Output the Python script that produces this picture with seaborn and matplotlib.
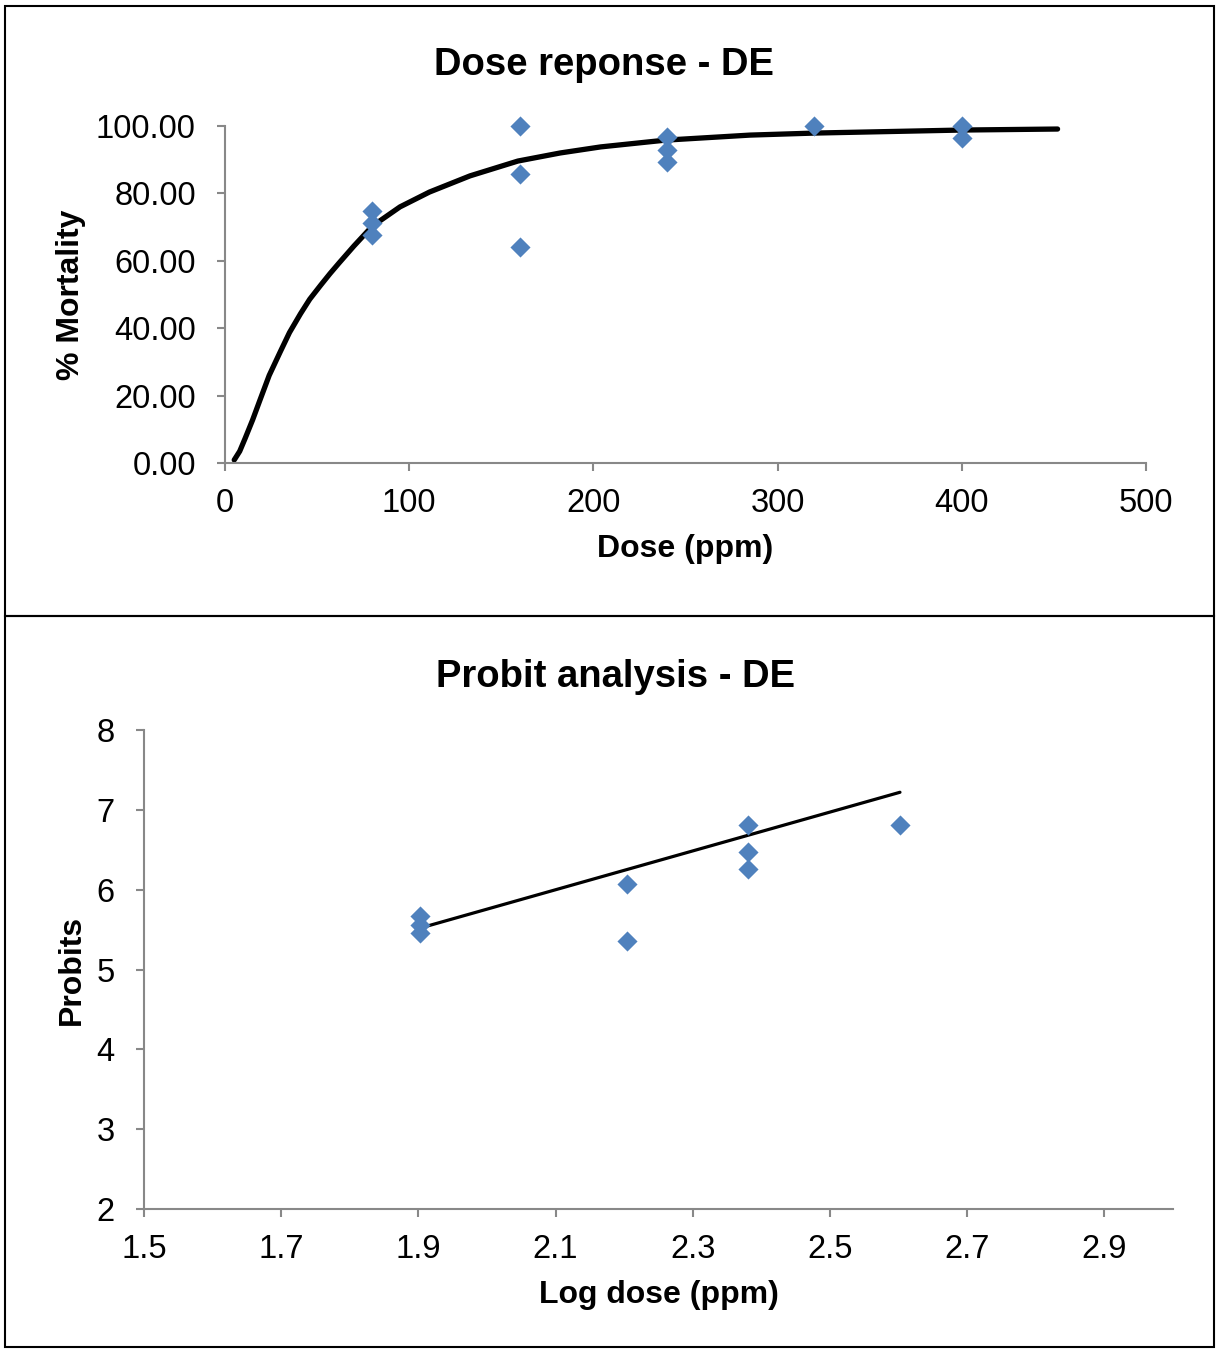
import matplotlib
matplotlib.use("Agg")
import matplotlib.pyplot as plt
import seaborn as sns

# dose response data
dose = [80, 80, 80, 160, 160, 160, 240, 240, 240, 320, 400, 400]
mortality = [74.8, 71.2, 67.7, 100.0, 85.8, 64.1, 96.7, 92.9, 89.3, 100.0, 100.0, 96.4]

# fitted curve
curve_dose = [5, 8, 11, 15, 19, 24, 30, 35, 41, 46, 52, 57, 62, 70, 80, 95, 111, 133, 159, 182, 204, 239, 285, 320, 400, 452]
curve_mort = [0.9, 3.5, 7.4, 12.8, 18.7, 26.0, 33.0, 38.7, 44.3, 48.6, 52.8, 56.2, 59.4, 64.4, 70.3, 76.0, 80.4, 85.2, 89.6, 92.0, 93.8, 95.8, 97.3, 97.9, 98.8, 99.1]

# probit data
log_dose = [1.903, 1.903, 1.903, 2.204, 2.204, 2.380, 2.380, 2.380, 2.602]
probits = [5.67, 5.56, 5.46, 6.07, 5.36, 6.81, 6.47, 6.26, 6.81]
fit_x = [1.903, 2.602]
fit_y = [5.52, 7.22]

top_xticks = [0, 100, 200, 300, 400, 500]
top_yticks = [0, 20, 40, 60, 80, 100]
bot_xticks = [1.5, 1.7, 1.9, 2.1, 2.3, 2.5, 2.7, 2.9]
bot_yticks = [2, 3, 4, 5, 6, 7, 8]

sns.set_theme(style="white")
plt.rcParams['font.family'] = ['Liberation Sans', 'DejaVu Sans']
plt.rcParams['text.color'] = 'black'
plt.rcParams['axes.labelcolor'] = 'black'

W, H = 1223, 1350
blue = "#4F81BD"
gray = "#888888"

fig = plt.figure(figsize=(W / 100, H / 100), dpi=100)
fig.patch.set_facecolor("white")

# chart borders
for top, bottom in [(6, 616), (616, 1347)]:
    fig.add_artist(plt.Rectangle((5 / W, 1 - bottom / H), (1214 - 5) / W, (bottom - top) / H,
                                 transform=fig.transFigure, fill=False, edgecolor="black", linewidth=1.5))


def style_axes(ax):
    for side in ["top", "right"]:
        ax.spines[side].set_visible(False)
    for side in ["left", "bottom"]:
        ax.spines[side].set_color(gray)
        ax.spines[side].set_linewidth(1.5)
    ax.tick_params(axis="both", which="major", direction="out", length=6, width=1.5,
                   color=gray, labelsize=23.5, labelcolor="black", left=True, bottom=True)
    ax.tick_params(axis="y", pad=15)
    ax.tick_params(axis="x", pad=12)


# top chart
ax1 = fig.add_axes([225 / W, 1 - 463 / H, 921 / W, 337 / H])
sns.lineplot(x=curve_dose, y=curve_mort, ax=ax1, color="black", linewidth=3.8,
             solid_capstyle="round", solid_joinstyle="round")
sns.scatterplot(x=dose, y=mortality, ax=ax1, marker="D", s=105, color=blue, linewidth=0,
                zorder=3, clip_on=False)
ax1.set_xlim(0, 500)
ax1.set_ylim(0, 100)
ax1.set_xticks(top_xticks)
ax1.set_yticks(top_yticks)
ax1.set_yticklabels([f"{v:.2f}" for v in top_yticks])
ax1.set_xlabel("Dose (ppm)", fontsize=23, fontweight="bold", labelpad=11)
ax1.set_ylabel("% Mortality", fontsize=23, fontweight="bold", labelpad=7)
style_axes(ax1)
fig.text(604 / W, 1 - 65 / H, "Dose reponse - DE", fontsize=27.5, fontweight="bold",
         ha="center", va="center")

# bottom chart
ax2 = fig.add_axes([144 / W, 1 - 1209 / H, 1029 / W, 479 / H])
sns.lineplot(x=fit_x, y=fit_y, ax=ax2, color="black", linewidth=2.3)
sns.scatterplot(x=log_dose, y=probits, ax=ax2, marker="D", s=105, color=blue, linewidth=0,
                zorder=3, clip_on=False)
ax2.set_xlim(1.5, 3.0)
ax2.set_ylim(2, 8)
ax2.set_xticks(bot_xticks)
ax2.set_xticklabels([f"{v:.1f}" for v in bot_xticks])
ax2.set_yticks(bot_yticks)
ax2.set_xlabel("Log dose (ppm)", fontsize=23, fontweight="bold", labelpad=11)
ax2.set_ylabel("Probits", fontsize=23, fontweight="bold", labelpad=7)
style_axes(ax2)
fig.text(616 / W, 1 - 677 / H, "Probit analysis - DE", fontsize=27.5, fontweight="bold",
         ha="center", va="center")

plt.savefig("out.png", dpi=100, facecolor="white")
